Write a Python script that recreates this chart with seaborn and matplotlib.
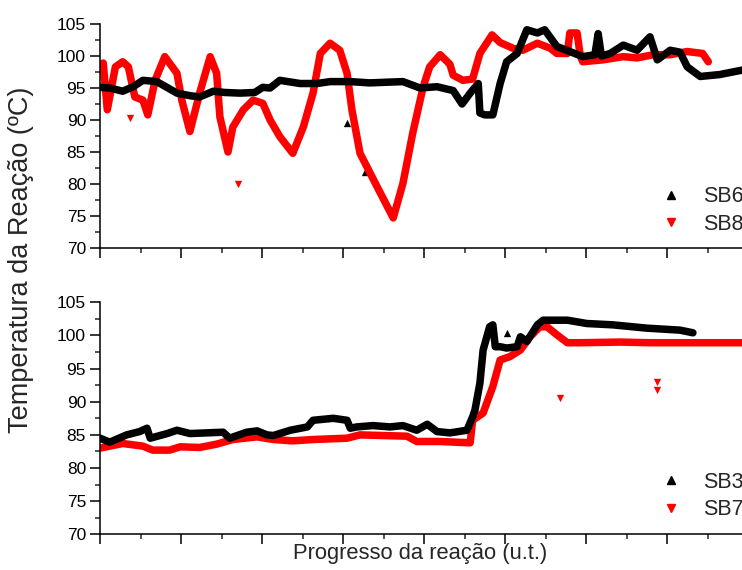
import matplotlib
matplotlib.use("Agg")
import matplotlib.pyplot as plt
from matplotlib.lines import Line2D
from matplotlib.ticker import MultipleLocator, NullFormatter
import seaborn as sns
import pandas as pd

# ---------------- data (reaction progress in u.t., temperature in C) ----------------
sb6_x = [0.0, 1.2, 2.8, 4.1, 5.3, 7.0, 8.4, 9.5, 11.1, 12.3, 14.0, 15.4, 17.3, 19.1, 20.1, 21.0,
         22.2, 24.7, 26.8, 28.4, 30.9, 33.3, 37.4, 39.5, 41.6, 43.6, 44.7, 45.7, 46.7, 46.9, 47.5,
         48.5, 49.4, 50.2, 51.5, 52.7, 54.0, 54.9, 56.4, 58.0, 59.6, 61.1, 61.5, 61.9, 63.0, 64.6,
         66.3, 67.9, 68.8, 70.4, 71.6, 72.5, 74.1, 76.5, 79.3]
sb6_y = [95.1, 95.0, 94.5, 95.2, 96.2, 96.0, 95.0, 94.2, 93.8, 93.6, 94.5, 94.3, 94.2, 94.3, 95.1, 95.0,
         96.2, 95.7, 95.7, 96.0, 96.0, 95.8, 96.0, 95.0, 95.2, 94.6, 92.5, 94.2, 95.7, 91.1, 90.8,
         90.8, 95.7, 99.1, 100.4, 104.1, 103.6, 104.1, 101.5, 100.7, 99.9, 100.2, 103.5, 100.0, 100.4, 101.7,
         100.9, 103.0, 99.4, 100.9, 100.6, 98.3, 96.8, 97.1, 97.8]

sb8_x = [0.0, 0.4, 0.9, 1.9, 2.8, 3.5, 4.3, 5.3, 5.9, 6.8, 8.0, 9.5, 10.1, 11.1, 12.3, 13.6, 14.4,
         14.8, 15.8, 16.4, 17.7, 18.9, 20.1, 21.0, 22.2, 23.8, 25.1, 26.3, 27.2, 28.4, 29.6, 30.5,
         31.1, 32.1, 34.2, 36.2, 37.4, 38.6, 39.9, 40.7, 42.0, 43.2, 43.6, 44.8, 46.0, 46.9, 48.4,
         49.4, 51.0, 52.2, 54.0, 55.6, 56.4, 57.7, 58.0, 58.9, 59.3, 59.6, 62.1, 64.6, 66.3, 68.3,
         70.4, 72.5, 74.4, 75.1]
sb8_y = [98.3, 98.9, 91.6, 98.3, 99.1, 98.3, 93.6, 93.1, 90.8, 96.2, 99.9, 97.3, 93.1, 88.2, 94.2, 99.9, 97.3,
         90.5, 85.0, 88.9, 91.6, 93.1, 92.6, 90.0, 87.4, 84.8, 88.9, 94.2, 100.4, 102.0, 100.9, 97.3,
         91.6, 84.8, 79.6, 74.7, 80.1, 87.9, 95.2, 98.3, 100.2, 98.7, 97.0, 96.2, 96.4, 100.4, 103.3,
         102.1, 101.2, 100.9, 102.0, 101.2, 100.4, 100.4, 103.6, 103.6, 100.0, 99.1, 99.4, 99.9, 99.7, 100.2,
         100.2, 100.7, 100.4, 99.1]

sb3_x = [0.0, 1.2, 3.3, 4.9, 5.8, 6.2, 8.3, 9.5, 11.1, 15.2, 16.0, 18.1, 19.4, 20.6, 21.4, 23.5,
         25.6, 26.3, 28.8, 30.5, 30.9, 31.7, 33.7, 35.8, 37.4, 39.1, 40.4, 41.6, 43.2, 45.3, 46.0,
         46.3, 46.9, 47.3, 48.1, 48.5, 48.8, 49.4, 50.2, 51.5, 51.9, 52.7, 54.0, 54.7, 57.7, 60.1,
         63.3, 67.5, 71.6, 73.2]
sb3_y = [84.5, 83.9, 85.0, 85.5, 86.0, 84.5, 85.2, 85.7, 85.2, 85.4, 84.5, 85.4, 85.6, 85.0, 84.9, 85.7,
         86.2, 87.2, 87.5, 87.2, 86.0, 86.2, 86.4, 86.2, 86.4, 85.7, 86.6, 85.5, 85.3, 85.7, 87.7,
         88.8, 92.8, 97.8, 101.3, 101.6, 98.3, 98.3, 98.1, 98.3, 99.8, 99.1, 101.6, 102.3, 102.3, 101.8,
         101.6, 101.1, 100.8, 100.4]

sb7_x = [0.0, 2.8, 5.3, 6.5, 8.6, 9.9, 12.3, 14.4, 16.4, 19.4, 21.4, 23.8, 26.3, 30.5, 32.1, 37.9,
         39.1, 42.0, 45.7, 46.0, 47.3, 48.5, 49.4, 50.6, 51.9, 53.1, 54.3, 55.2, 56.4, 57.7, 59.3,
         64.2, 67.9, 74.1, 79.3]
sb7_y = [83.0, 83.7, 83.3, 82.7, 82.7, 83.2, 83.1, 83.6, 84.3, 84.7, 84.3, 84.1, 84.3, 84.5, 85.0, 84.8,
         84.0, 84.0, 83.8, 87.2, 88.3, 92.3, 96.3, 96.8, 97.8, 99.8, 101.3, 101.3, 100.1, 98.9, 98.9,
         99.0, 98.9, 98.9, 98.9]

# isolated readings
sb6_out_x = [30.5, 32.7]
sb6_out_y = [89.5, 81.9]
sb8_out_x = [3.7, 17.0]
sb8_out_y = [90.3, 80.0]
sb3_out_x = [50.2]
sb3_out_y = [100.4]
sb7_out_x = [56.8, 68.8, 68.8]
sb7_out_y = [90.5, 93.0, 91.7]

top_labels = ["SB6", "SB8"]
bottom_labels = ["SB3", "SB7"]
y_label = "Temperatura da Reação (ºC)"
x_label = "Progresso da reação (u.t.)"

# ---------------- style ----------------
sns.set_theme(style="ticks")
plt.rcParams["font.family"] = ["Liberation Sans", "DejaVu Sans"]
plt.rcParams["axes.linewidth"] = 1.1

BLACK = "#000000"
RED = "#ff0000"

W, H = 742, 570
fig = plt.figure(figsize=(W / 100, H / 100), dpi=100)

left_px, width_px = 100, 648
ax_top = fig.add_axes([left_px / W, 1 - 248 / H, width_px / W, (248 - 24) / H])
ax_bot = fig.add_axes([left_px / W, 1 - 534.3 / H, width_px / W, (534.3 - 302.3) / H])


def draw(ax, xa, ya, xb, yb, oxa, oya, oxb, oyb, labels, leg_y):
    da = pd.DataFrame({"x": xa, "y": ya})
    db = pd.DataFrame({"x": xb, "y": yb})
    sns.lineplot(data=db, x="x", y="y", ax=ax, color=RED, linewidth=5.4,
                 sort=False, estimator=None, solid_joinstyle="round", solid_capstyle="round")
    sns.lineplot(data=da, x="x", y="y", ax=ax, color=BLACK, linewidth=5.4,
                 sort=False, estimator=None, solid_joinstyle="round", solid_capstyle="round")
    sns.scatterplot(x=oxa, y=oya, ax=ax, color=BLACK, marker="^", s=28, linewidth=0)
    sns.scatterplot(x=oxb, y=oyb, ax=ax, color=RED, marker="v", s=28, linewidth=0)

    ax.set_xlim(0, 80)
    ax.set_ylim(70, 105)
    ax.xaxis.set_major_locator(MultipleLocator(10))
    ax.xaxis.set_minor_locator(MultipleLocator(5))
    ax.xaxis.set_major_formatter(NullFormatter())
    ax.yaxis.set_major_locator(MultipleLocator(5))
    ax.yaxis.set_minor_locator(MultipleLocator(2.5))
    ax.tick_params(axis="both", which="major", direction="out", length=7, width=1.1,
                   labelsize=12.5, colors="black", pad=3)
    ax.tick_params(axis="both", which="minor", direction="out", length=3.6, width=1.1)
    ax.set_xlabel("")
    ax.set_ylabel("")
    for s in ("top", "right"):
        ax.spines[s].set_visible(False)
    for s in ("left", "bottom"):
        ax.spines[s].set_color("black")

    handles = [Line2D([], [], color=BLACK, marker="^", linestyle="none", markersize=6),
               Line2D([], [], color=RED, marker="v", linestyle="none", markersize=6)]
    ax.legend(handles, labels, loc="lower left", bbox_to_anchor=(0.864, leg_y),
              frameon=False, fontsize=15.5, handlelength=1.0, handletextpad=1.0,
              labelspacing=0.3, borderpad=0, borderaxespad=0)


draw(ax_top, sb6_x, sb6_y, sb8_x, sb8_y, sb6_out_x, sb6_out_y, sb8_out_x, sb8_out_y, top_labels, 0.06)
draw(ax_bot, sb3_x, sb3_y, sb7_x, sb7_y, sb3_out_x, sb3_out_y, sb7_out_x, sb7_out_y, bottom_labels, 0.06)

fig.text(21 / W, 1 - 260 / H, y_label, rotation=90, ha="center", va="center", fontsize=19.5)
fig.text(420 / W, 1 - 553 / H, x_label, ha="center", va="center", fontsize=15.8)

fig.savefig("out.png", dpi=100)
